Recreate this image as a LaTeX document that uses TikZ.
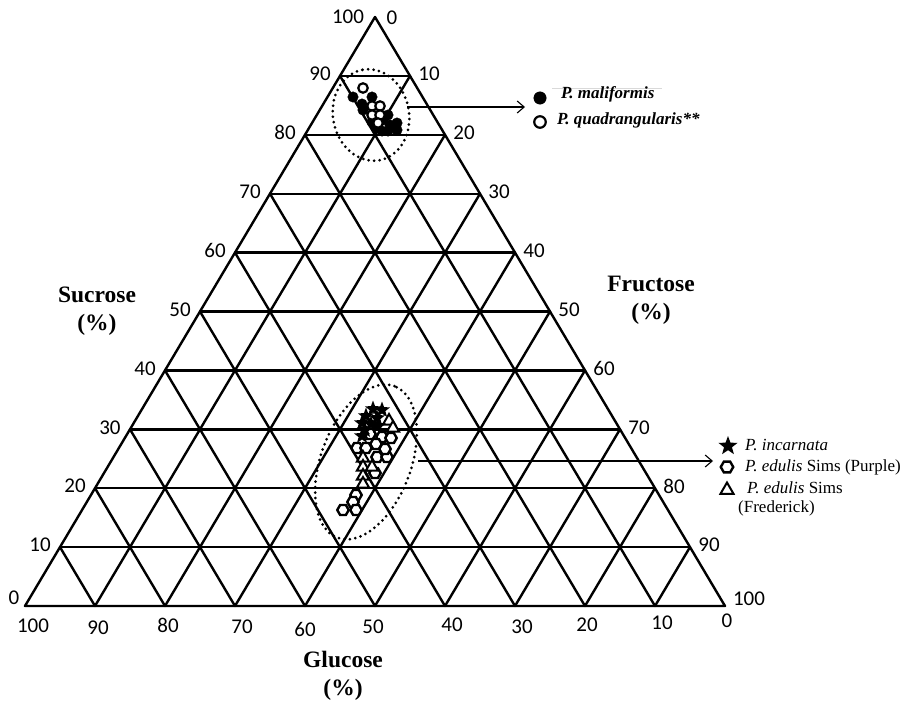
\documentclass[tikz,border=0pt]{standalone}
\usepackage{fontspec}
\setmainfont{Liberation Serif}
\newfontfamily\numfont{Carlito}
\usetikzlibrary{arrows.meta,shapes.geometric,calc}
\begin{document}
\begin{tikzpicture}[x=1pt,y=-1pt,
  gridline/.style={line width=2.4pt, line join=round, line cap=round},
  num/.style={font=\numfont\fontsize{21}{22}\selectfont, inner sep=0pt},
  axtitle/.style={font=\bfseries\fontsize{23.5}{28}\selectfont, align=center, inner sep=0pt},
  legtext/.style={font=\fontsize{17}{19}\selectfont, anchor=west, inner sep=0pt},
  dotring/.style={line width=3pt, dash pattern=on 0pt off 5.5pt, line cap=round},
  pointer/.style={line width=1.1pt, -{Straight Barb[length=7pt,width=12pt,line width=1.1pt]}},
  fcirc/.style={circle, fill=black, draw=black, minimum size=10.5pt, inner sep=0pt, line width=0.4pt},
  ocirc/.style={circle, fill=white, draw=black, line width=2.2pt, minimum size=9.5pt, inner sep=0pt},
  starm/.style={star, star points=5, star point ratio=2.4, fill=black, minimum size=17pt, inner sep=0pt},
  hexm/.style={regular polygon, regular polygon sides=6, draw=black, fill=white, line width=2.4pt, minimum size=11.5pt, inner sep=0pt},
  trim/.style={regular polygon, regular polygon sides=3, draw=black, fill=white, line width=2pt, minimum size=14pt, inner sep=0pt},
]
\useasboundingbox (0,0) rectangle (916,701);
\fill[white] (0,0) rectangle (916,701);

% triangle vertices
\coordinate (A) at (375,17);
\coordinate (L) at (25,606);
\coordinate (R) at (725,606);

% grid
\foreach \k in {1,...,9} {
  \draw[gridline] ($(L)!\k/10!(A)$) -- ($(R)!\k/10!(A)$);
  \draw[gridline] ($(L)!\k/10!(R)$) -- ($(L)!\k/10!(A)$);
  \draw[gridline] ($(R)!\k/10!(L)$) -- ($(R)!\k/10!(A)$);
}
\draw[gridline] (A) -- (L) -- (R) -- cycle;

% Sucrose labels (left side)
\node[num] (s0) at (14,598) {0};
\foreach \k/\v in {1/10,2/20,3/30,4/40,5/50,6/60,7/70,8/80,9/90} {
  \node[num] (s\v) at ($(L)!\k/10!(A)+(-20,-2)$) {\v};
}
\node[num] (s100) at (348,17) {100};

% Fructose labels (right side)
\node[num] (f0) at (392,18) {0};
\foreach \k/\v in {9/10,8/20,7/30,6/40,5/50,4/60,3/70,2/80,1/90} {
  \node[num] (f\v) at ($(R)!\k/10!(A)+(19,-2)$) {\v};
}
\node[num] (f100) at (749,599) {100};

% Glucose labels (bottom)
\foreach \x/\y/\v in {33/626/100,98/628/90,168/625/80,242/627/70,305/629/60,373/627/50,452/625/40,522/627/30,587/625/20,662/623/10,727/621/0} {
  \node[num] (g\v) at (\x,\y) {\v};
}

% axis titles
\node[axtitle] (tsuc) at (97,311) {Sucrose\\(\%)};
\node[axtitle] (tfru) at (651,300) {Fructose\\(\%)};
\node[axtitle] (tglu) at (343,676) {Glucose\\(\%)};

% dotted ellipses
\coordinate (eT) at (371,115);
\coordinate (eB) at (366,462);
\draw[dotring, rotate around={101:(eT)}] (eT) ellipse [x radius=46pt, y radius=38pt];
\draw[dotring, rotate around={69.4:(eB)}] (eB) ellipse [x radius=81pt, y radius=45pt];

% top cluster
\foreach \p [count=\i] in {(353,97),(362,104),(372,97),(363,110),(372,122),(383,120),(388,115),(390,125),(397,123),(377,128),(382,131),(388,131),(397,130)} {
  \node[fcirc] (pm\i) at \p {};
}
\foreach \p [count=\i] in {(363,88),(372,106),(380,106),(372,115),(380,115),(378,123)} {
  \node[ocirc] (pq\i) at \p {};
}

% bottom cluster
\foreach \p [count=\i] in {(370,434),(382,437),(391,438),(357,448),(366,448),(376,444),(377,457),(387,457),(375,473),(385,449),(356,495),(353,502),(343,510),(356,510)} {
  \node[hexm] (pe\i) at \p {};
}
\foreach \p [count=\i] in {(389,421),(393,428),(363,458),(363,467),(363,476),(363,484),(372,467)} {
  \node[trim] (pf\i) at \p {};
}
\foreach \p [count=\i] in {(373,409),(382,410),(366,416),(377,418),(362,423),(371,424),(365,430),(362,436),(378,426)} {
  \node[starm] (pi\i) at \p {};
}

% top legend
\draw[black!15, line width=1pt] (552,89) -- (662,89);
\coordinate (aT1) at (407,107);
\coordinate (aT2) at (525,107);
\draw[pointer] (aT1) -- (aT2);
\node[fcirc, minimum size=12.5pt] (lgm) at (540,98) {};
\node[ocirc, minimum size=11.5pt] (lgq) at (540,122) {};
\node[legtext, font=\bfseries\itshape\fontsize{17}{19}\selectfont] (tm) at (561,94) {P. maliformis};
\node[legtext, font=\bfseries\itshape\fontsize{17}{19}\selectfont] (tq) at (557,120) {P. quadrangularis**};

% bottom legend
\coordinate (aB1) at (418,461);
\coordinate (aB2) at (713,461);
\draw[pointer] (aB1) -- (aB2);
\node[starm, minimum size=20pt] (lgi) at (728,446) {};
\node[hexm, minimum size=12.5pt] (lge) at (727,467) {};
\node[trim, minimum size=15pt] (lgf) at (727,490) {};
\node[legtext] (ti) at (745,445) {\textit{P. incarnata}};
\node[legtext] (te) at (745,467) {\textit{P. edulis} Sims (Purple)};
\node[legtext] (tf1) at (747,488) {\textit{P. edulis} Sims};
\node[legtext] (tf2) at (738,508) {(Frederick)};
\end{tikzpicture}
\end{document}
